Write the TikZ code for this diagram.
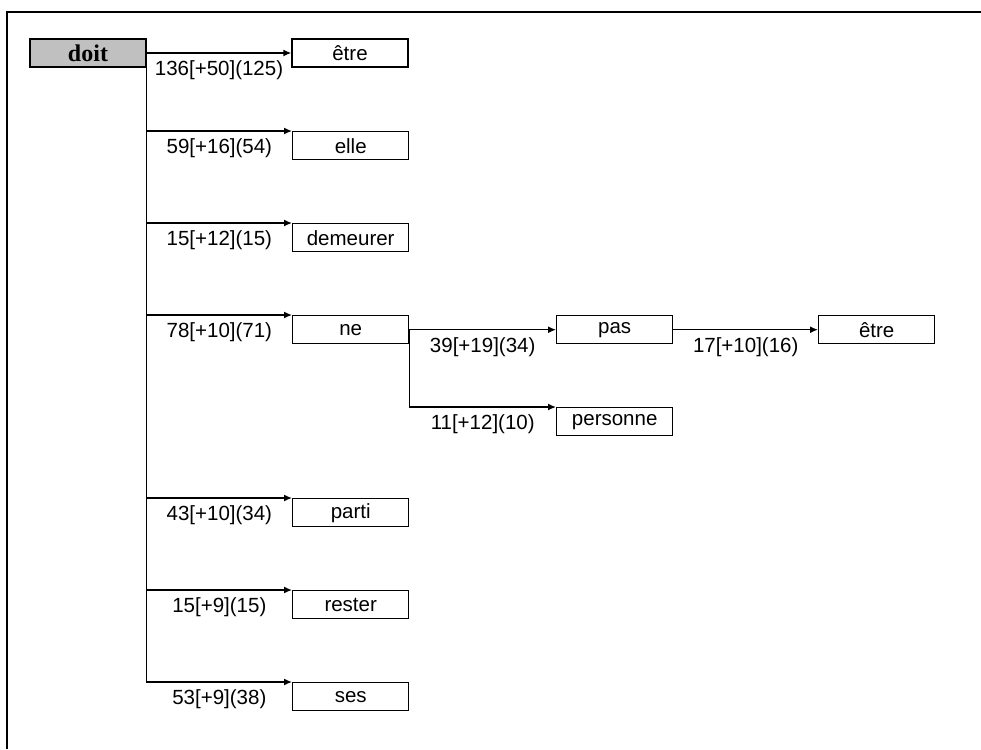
\documentclass[tikz,border=0pt]{standalone}
\usepackage{fontspec}
\setmainfont{Liberation Sans}
\newfontfamily\headfont{Liberation Serif}
\usetikzlibrary{arrows.meta}
\definecolor{boxgray}{RGB}{192,192,192}

\begin{document}
\begin{tikzpicture}[x=1pt,y=-1pt,
	font=\fontsize{20.5}{24}\selectfont,
	line width=1.4pt,
	word/.style={draw,minimum width=116pt,minimum height=28pt,inner sep=0pt},
	count/.style={below=4pt},
	>={Latex[length=8pt,width=7pt]}]
\useasboundingbox (0,0) rectangle (981,749);
\draw[line width=2.6pt] (981,12) -- (7,12) -- (7,749);

% root and first level
\node[word,fill=boxgray,font=\fontsize{24}{26}\headfont\bfseries] (doit) at (88,53) {doit};
\node[word] (etre) at (350,53) {être};
\foreach \name/\y in {elle/131,demeurer/223,ne/315,parti/498,rester/590,ses/682}
	\node[word,anchor=north west] (\name) at (292,\y) {\name};

% second and third level
\node[word,anchor=north west] (pas) at (556,315) {pas};
\node[word,anchor=north west] (etredeux) at (818,315) {être};
\node[word,anchor=north west] (personne) at (556,407) {personne};

\draw[->] (doit.east) -- node[count] {136[+50](125)} (etre.west);
\foreach \name/\lab in {elle/{59[+16](54)},demeurer/{15[+12](15)},ne/{78[+10](71)},parti/{43[+10](34)},rester/{15[+9](15)}}
	\draw[->] (doit.east |- \name.north west) -- node[count] {\lab} (\name.north west);
\draw[->] (doit.east) |- node[pos=.75,count] {53[+9](38)} (ses.north west);

\draw[->] (ne.east) -- node[count] {39[+19](34)} (pas.west);
\draw[->] (pas.east) -- node[count] {17[+10](16)} (etredeux.west);
\draw[->] (ne.east) |- node[pos=.75,count] {11[+12](10)} (personne.north west);
\end{tikzpicture}
\end{document}
